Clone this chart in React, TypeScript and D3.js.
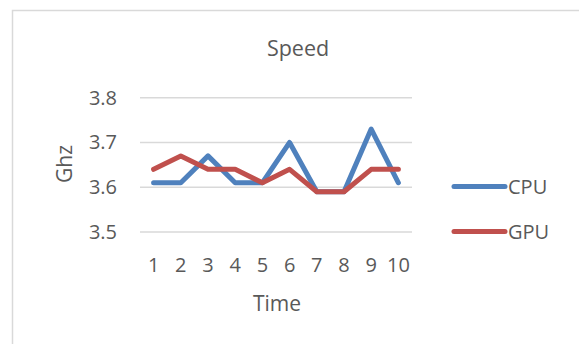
import React from "react";
import * as d3 from "d3";

const categories = ["1", "2", "3", "4", "5", "6", "7", "8", "9", "10"];
const cpu = [3.61, 3.61, 3.67, 3.61, 3.61, 3.7, 3.59, 3.59, 3.73, 3.61];
const gpu = [3.64, 3.67, 3.64, 3.64, 3.61, 3.64, 3.59, 3.59, 3.64, 3.64];
const yTicks = [3.5, 3.6, 3.7, 3.8];
const seriesNames = ["CPU", "GPU"];
const seriesColors = ["#4f81bd", "#c0504d"];

const W = 579;
const H = 344;
const plot = { left: 140, right: 412, top: 97.7, bottom: 232 };
const font = "'Open Sans', 'Liberation Sans', sans-serif";
const textColor = "#595959";

export default function App() {
  const x = d3
    .scaleBand<string>()
    .domain(categories)
    .range([plot.left, plot.right]);
  const y = d3.scaleLinear().domain([3.5, 3.8]).range([plot.bottom, plot.top]);
  const line = d3
    .line<number>()
    .x((_, i) => (x(categories[i]) as number) + x.bandwidth() / 2)
    .y((d) => y(d));
  const series = [cpu, gpu];

  return (
    <svg
      width={W}
      height={H}
      style={{ position: "fixed", left: 0, top: 0, background: "#fff" }}
      fontFamily={font}
    >
      <rect x={0} y={0} width={W} height={H} fill="#fff" />
      <rect
        x={12.5}
        y={10.5}
        width={W + 20}
        height={H + 20}
        fill="none"
        stroke="#d9d9d9"
        strokeWidth={1.5}
      />
      <text
        x={298}
        y={56}
        textAnchor="middle"
        fontSize={21.5}
        fill={textColor}
      >
        Speed
      </text>
      {yTicks.map((t) => (
        <g key={t}>
          <line
            x1={plot.left}
            x2={plot.right}
            y1={y(t)}
            y2={y(t)}
            stroke="#d9d9d9"
            strokeWidth={1.5}
          />
          <text
            x={117}
            y={y(t) + 7}
            textAnchor="end"
            fontSize={20}
            fill={textColor}
          >
            {t.toFixed(1)}
          </text>
        </g>
      ))}
      {categories.map((c) => (
        <text
          key={c}
          x={(x(c) as number) + x.bandwidth() / 2}
          y={272}
          textAnchor="middle"
          fontSize={20}
          fill={textColor}
        >
          {c}
        </text>
      ))}
      <text
        x={277}
        y={311}
        textAnchor="middle"
        fontSize={21}
        fill={textColor}
      >
        Time
      </text>
      <text
        transform="translate(72,164) rotate(-90)"
        textAnchor="middle"
        fontSize={21}
        fill={textColor}
      >
        Ghz
      </text>
      {series.map((s, i) => (
        <path
          key={seriesNames[i]}
          d={line(s) ?? ""}
          fill="none"
          stroke={seriesColors[i]}
          strokeWidth={5}
          strokeLinejoin="round"
          strokeLinecap="round"
        />
      ))}
      {seriesNames.map((n, i) => {
        const ly = 186.5 + i * 45;
        return (
          <g key={n}>
            <line
              x1={454}
              x2={505}
              y1={ly}
              y2={ly}
              stroke={seriesColors[i]}
              strokeWidth={5}
              strokeLinecap="round"
            />
            <text x={508} y={ly + 7} fontSize={20} fill={textColor}>
              {n}
            </text>
          </g>
        );
      })}
    </svg>
  );
}
